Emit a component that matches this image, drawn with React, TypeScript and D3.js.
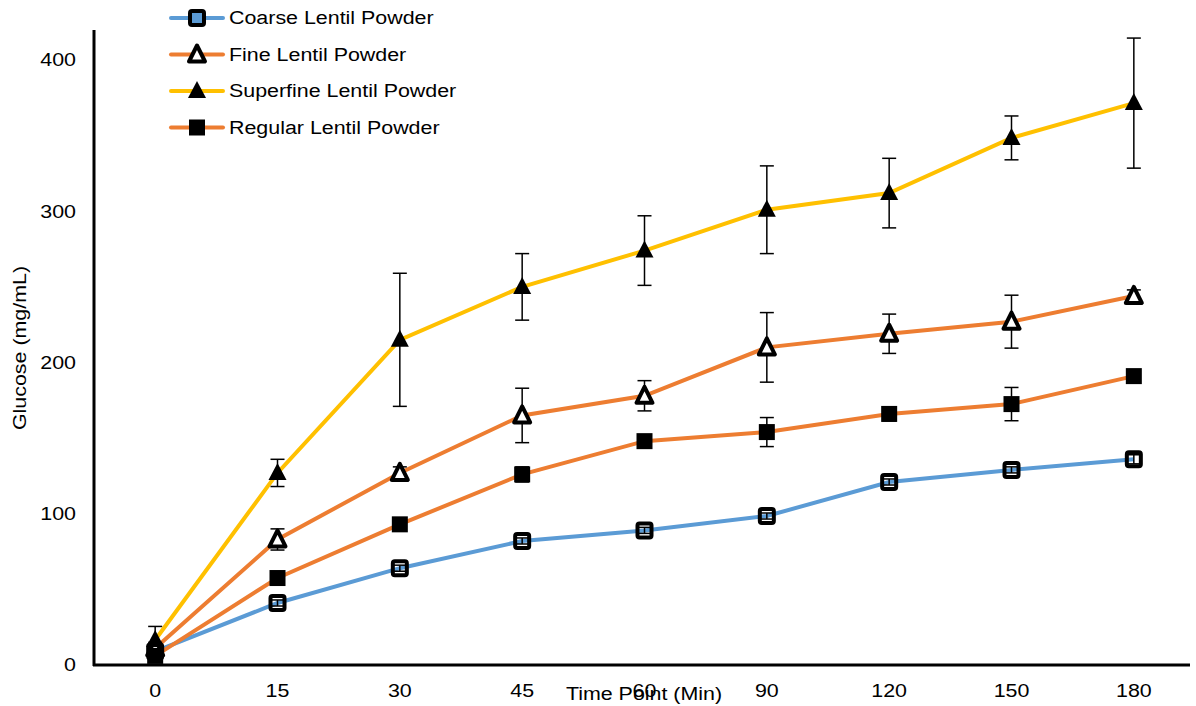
import React from 'react';
import * as d3 from 'd3';

// time points (categorical axis)
const timePoints = ['0', '15', '30', '45', '60', '90', '120', '150', '180'];
const yTicks = [0, 100, 200, 300, 400];

const coarse = [9, 41, 64, 82, 89, 98.5, 121, 129, 136];
const coarseErr = [3, 2, 2, 2, 2, 2, 2, 2, 3];
const fine = [11, 83, 127, 165, 178, 210, 219, 227, 244];
const fineErr = [4, 7, 4, 18, 10, 23, 13, 17.5, 4];
const superfine = [16.5, 127, 215, 250, 274, 301, 312, 348.5, 371.5];
const superfineErr = [9, 9, 44, 22, 23, 29, 23, 14.5, 43];
const regular = [6, 57.5, 93, 126, 148, 154, 166, 172.5, 191];
const regularErr = [3, 2, 2, 5, 2, 9.6, 4.6, 11, 2];

type Marker = 'openSquare' | 'openTriangle' | 'triangle' | 'square';
const series: { name: string; values: number[]; err: number[]; color: string; marker: Marker }[] = [
  { name: 'Coarse Lentil Powder', values: coarse, err: coarseErr, color: '#5B9BD5', marker: 'openSquare' },
  { name: 'Fine Lentil Powder', values: fine, err: fineErr, color: '#ED7D31', marker: 'openTriangle' },
  { name: 'Superfine Lentil Powder', values: superfine, err: superfineErr, color: '#FFC000', marker: 'triangle' },
  { name: 'Regular Lentil Powder', values: regular, err: regularErr, color: '#ED7D31', marker: 'square' },
];

const W = 1196;
const H = 706;
const font = 'Liberation Sans, Arial, sans-serif';
const stretch = 1.19; // the source text is wider than plain Arial

const x = d3.scalePoint<string>().domain(timePoints).range([94, 1195]).padding(0.5);
const y = d3.scaleLinear().domain([0, 400]).range([665, 60]);

function Label({ x, y, rotate = 0, anchor = 'start', dy, children }: any) {
  return (
    <text
      transform={`translate(${x},${y}) rotate(${rotate}) scale(${stretch},1)`}
      textAnchor={anchor}
      dy={dy}
      fontFamily={font}
      fontSize={18}
      fill="#000"
    >
      {children}
    </text>
  );
}

function MarkerShape({ kind, cx, cy, fill }: { kind: Marker; cx: number; cy: number; fill: string }) {
  if (kind === 'openSquare') {
    return <rect x={cx - 7} y={cy - 7} width={14} height={14} rx={2} fill={fill} stroke="#000" strokeWidth={4} />;
  }
  if (kind === 'square') {
    return <rect x={cx - 8} y={cy - 8} width={16} height={16} fill="#000" />;
  }
  if (kind === 'openTriangle') {
    const p = d3.path();
    p.moveTo(cx, cy - 9);
    p.lineTo(cx + 8, cy + 7);
    p.lineTo(cx - 8, cy + 7);
    p.closePath();
    return <path d={p.toString()} fill="#fff" stroke="#000" strokeWidth={4} strokeLinejoin="round" />;
  }
  const p = d3.path();
  p.moveTo(cx, cy - 10);
  p.lineTo(cx + 9, cy + 7);
  p.lineTo(cx - 9, cy + 7);
  p.closePath();
  return <path d={p.toString()} fill="#000" />;
}

export default function App() {
  const line = d3
    .line<number>()
    .x((_, i) => x(timePoints[i]) as number)
    .y((d) => y(d));

  return (
    <svg width={W} height={H} style={{ position: 'absolute', left: 0, top: 0, background: '#fff' }}>
      {/* axes */}
      <line x1={94} y1={30} x2={94} y2={666} stroke="#000" strokeWidth={3} />
      <line x1={93} y1={665} x2={1190} y2={665} stroke="#000" strokeWidth={3} />
      {yTicks.map((t) => (
        <Label key={t} x={76} y={y(t)} dy="0.35em" anchor="end">
          {t}
        </Label>
      ))}
      {timePoints.map((t) => (
        <Label key={t} x={x(t)} y={697} anchor="middle">
          {t}
        </Label>
      ))}
      <Label x={26} y={348} rotate={-90} anchor="middle">
        Glucose (mg/mL)
      </Label>
      <Label x={644} y={700} anchor="middle">
        Time Point (Min)
      </Label>

      {/* lines */}
      {series.map((s) => (
        <path key={s.name} d={line(s.values) || ''} fill="none" stroke={s.color} strokeWidth={4} />
      ))}

      {/* error bars */}
      {series.map((s) =>
        s.values.map((v, i) => {
          const cx = x(timePoints[i]) as number;
          const top = y(v + s.err[i]);
          const bot = y(v - s.err[i]);
          return (
            <g key={s.name + i} stroke="#000" strokeWidth={1.5}>
              <line x1={cx} x2={cx} y1={top} y2={bot} />
              <line x1={cx - 7} x2={cx + 7} y1={top} y2={top} />
              <line x1={cx - 7} x2={cx + 7} y1={bot} y2={bot} />
            </g>
          );
        })
      )}

      {/* markers */}
      {series.map((s) =>
        s.values.map((v, i) => (
          <MarkerShape key={s.name + 'm' + i} kind={s.marker} cx={x(timePoints[i]) as number} cy={y(v)} fill={s.marker === 'openSquare' ? 'none' : s.color} />
        ))
      )}

      {/* legend */}
      {series.map((s, i) => {
        const ly = 18 + i * 36.5;
        return (
          <g key={s.name + 'leg'}>
            <line x1={171} x2={223} y1={ly} y2={ly} stroke={s.color} strokeWidth={4} strokeLinecap="round" />
            <MarkerShape kind={s.marker} cx={197} cy={ly} fill={s.marker === 'openSquare' ? s.color : '#fff'} />
            <Label x={229} y={ly} dy="0.35em">
              {s.name}
            </Label>
          </g>
        );
      })}
    </svg>
  );
}
